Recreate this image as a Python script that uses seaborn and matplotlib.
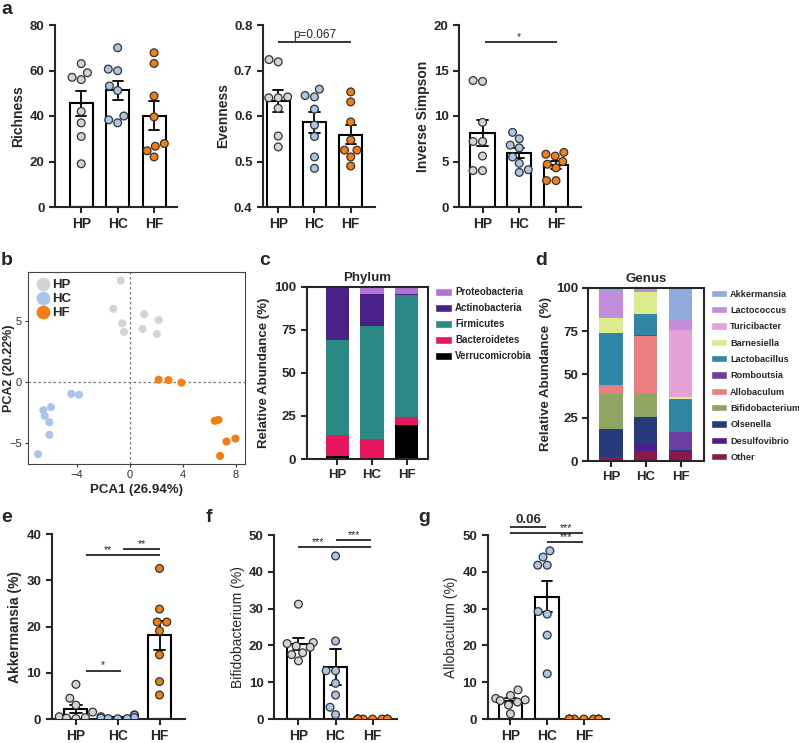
import warnings
warnings.filterwarnings("ignore")

import numpy as np
import pandas as pd
import matplotlib
matplotlib.use("Agg")
import matplotlib.pyplot as plt
from matplotlib.patches import Patch
import seaborn as sns

sns.set_style("ticks")
plt.rcParams["font.family"] = ["Liberation Sans", "DejaVu Sans"]
plt.rcParams["axes.linewidth"] = 1.5

W, H = 799, 743

GROUPS = ["HP", "HC", "HF"]
GROUP_COLORS = {"HP": "#D4D4D4", "HC": "#A9C6EA", "HF": "#F47F10"}

# alpha diversity
richness_hp = [63, 59, 57, 56, 42, 37, 31, 19]
richness_hc = [70, 60.6, 59.9, 53.2, 51.2, 40, 38.3, 37]
richness_hf = [67.8, 63.1, 48.8, 39.6, 27.9, 26.7, 24.7, 22]

evenness_hp = [0.724, 0.719, 0.642, 0.640, 0.640, 0.617, 0.556, 0.532]
evenness_hc = [0.659, 0.645, 0.642, 0.615, 0.580, 0.555, 0.510, 0.485]
evenness_hf = [0.653, 0.631, 0.587, 0.547, 0.525, 0.525, 0.510, 0.490]

invsimpson_hp = [13.9, 13.8, 9.3, 7.2, 7.2, 5.6, 4.0, 4.0]
invsimpson_hc = [8.2, 7.5, 6.8, 6.5, 5.5, 4.8, 4.1, 3.8]
invsimpson_hf = [6.0, 5.8, 5.6, 5.0, 4.7, 4.3, 2.9, 2.9]

# PCA scores
pca_hp_x = [-0.68, -1.26, -0.58, -0.45, 1.08, 2.17, 0.96, 2.04]
pca_hp_y = [8.3, 5.98, 4.8, 4.1, 5.55, 5.08, 4.34, 3.93]
pca_hc_x = [-4.43, -3.85, -5.96, -6.54, -6.44, -6.09, -6.09, -6.94]
pca_hc_y = [-0.96, -1.04, -2.05, -2.3, -2.76, -3.28, -4.32, -5.9]
pca_hf_x = [2.17, 2.92, 3.9, 6.42, 6.69, 7.3, 7.98, 6.82]
pca_hf_y = [0.19, 0.16, -0.05, -3.17, -3.09, -4.86, -4.62, -6.04]

# composition, bottom -> top
PHYLA = ["Verrucomicrobia", "Bacteroidetes", "Firmicutes", "Actinobacteria", "Proteobacteria"]
PHYLA_COLORS = ["#000000", "#E8175D", "#2B8985", "#4A2189", "#B073D6"]
phylum_hp = [2.0, 11.7, 55.3, 30.0, 1.0]
phylum_hc = [0.3, 11.5, 65.4, 18.8, 4.0]
phylum_hf = [19.7, 4.9, 70.4, 0.5, 4.5]

GENERA = ["Other", "Desulfovibrio", "Olsenella", "Bifidobacterium", "Allobaculum",
          "Romboutsia", "Lactobacillus", "Barnesiella", "Turicibacter",
          "Lactococcus", "Akkermansia"]
GENERA_COLORS = ["#8B1A4A", "#4B1F8E", "#263A7C", "#8FA562", "#EC7E7F",
                 "#6C3DA3", "#2F86A6", "#DCEB8C", "#E6A1D8", "#C18DDC", "#8FABDD"]
genus_hp = [2.1, 0.4, 16.0, 20.2, 5.1, 0.2, 30.0, 8.5, 0.0, 14.8, 2.7]
genus_hc = [5.8, 4.4, 15.0, 13.8, 33.3, 0.6, 12.1, 12.3, 0.0, 2.3, 0.4]
genus_hf = [5.0, 1.0, 0.3, 0.0, 0.0, 10.4, 19.1, 0.9, 39.1, 5.5, 18.7]

# single genera
akk_hp = [7.5, 4.5, 3.0, 1.5, 0.5, 0.3, 0.2, 0.1]
akk_hc = [0.9, 0.8, 0.5, 0.3, 0.2, 0.1, 0.1, 0.05]
akk_hf = [32.6, 23.8, 21.0, 21.0, 19.1, 13.9, 8.1, 5.2]

bifido_hp = [31.2, 20.8, 20.5, 19.8, 19.5, 18.0, 17.5, 15.8]
bifido_hc = [44.3, 21.2, 13.1, 13.1, 9.7, 6.5, 3.2, 1.2]
bifido_hf = [0, 0, 0, 0, 0, 0, 0, 0]

allo_hp = [7.9, 6.4, 5.6, 5.2, 5.0, 4.6, 3.8, 1.4]
allo_hc = [45.7, 44.0, 41.8, 41.8, 29.2, 28.5, 22.8, 12.3]
allo_hf = [0, 0, 0, 0, 0, 0, 0, 0]


def box(l, t, r, b):
    return [l / W, 1 - b / H, (r - l) / W, (b - t) / H]


def long_df(hp, hc, hf):
    rows = [(g, v) for g, vals in zip(GROUPS, [hp, hc, hf]) for v in vals]
    return pd.DataFrame(rows, columns=["group", "value"])


def bar_panel(ax, df, ylabel, ylim, yticks, xlim, width, label_weight="bold", yfmt=None):
    sns.barplot(data=df, x="group", y="value", order=GROUPS, errorbar="se",
                capsize=0.28, width=width, color="white", edgecolor="black",
                linewidth=1.5, err_kws={"color": "black", "linewidth": 1.3}, ax=ax)
    sns.swarmplot(data=df, x="group", y="value", order=GROUPS, hue="group",
                  hue_order=GROUPS, palette=GROUP_COLORS, size=5.6, edgecolor="#333333",
                  linewidth=0.9, legend=False, ax=ax)
    for c in ax.collections:
        c.set_zorder(4)
    ax.set_ylim(*ylim)
    ax.set_yticks(yticks)
    if yfmt:
        ax.set_yticklabels([yfmt.format(t) for t in yticks])
    ax.set_xlim(*xlim)
    ax.set_xlabel("")
    ax.set_ylabel(ylabel, fontsize=10, fontweight=label_weight, labelpad=3)
    sns.despine(ax=ax)
    ax.tick_params(axis="both", width=1.5, length=4, labelsize=9.5)
    for t in ax.get_xticklabels() + ax.get_yticklabels():
        t.set_fontweight("bold")
    ax.tick_params(axis="x", labelsize=10)


def bracket(ax, x1, x2, y, text, tx, fs=7.5, weight="normal", pad=0.0):
    ax.plot([x1, x2], [y, y], color="black", lw=1.1, clip_on=False,
            solid_capstyle="butt", zorder=5)
    ax.annotate(text, (tx, y), xytext=(0, pad), textcoords="offset points",
                ha="center", va="bottom", fontsize=fs, fontweight=weight,
                annotation_clip=False)


def stacked_panel(ax, values, names, colors, title, ylabel, xlim, width,
                  fs=7, anchor=1.02, spacing=0.62):
    bottom = np.zeros(3)
    handles = []
    for i, (name, col) in enumerate(zip(names, colors)):
        h = np.array([v[i] for v in values])
        ax.bar(GROUPS, h, bottom=bottom, width=width, color=col, linewidth=0)
        bottom += h
        handles.append(Patch(facecolor=col, label=name))
    ax.set_ylim(0, 100)
    ax.set_yticks([0, 25, 50, 75, 100])
    ax.set_xlim(*xlim)
    ax.set_title(title, fontsize=9.5, fontweight="bold", pad=4)
    ax.set_ylabel(ylabel, fontsize=9.5, fontweight="bold", labelpad=3)
    for s in ax.spines.values():
        s.set_linewidth(1.5)
    ax.tick_params(axis="both", width=1.5, length=4, labelsize=9.5)
    for t in ax.get_xticklabels() + ax.get_yticklabels():
        t.set_fontweight("bold")
    leg = ax.legend(handles=handles[::-1], loc="upper left", bbox_to_anchor=(1.03, anchor),
                    frameon=False, fontsize=fs, handlelength=1.7, handleheight=0.85,
                    handletextpad=0.35, labelspacing=spacing, borderaxespad=0)
    for t in leg.get_texts():
        t.set_fontweight("bold")


fig = plt.figure(figsize=(W / 100, H / 100), dpi=100)

# ---- a: alpha diversity
ax = fig.add_axes(box(55, 25, 177, 207))
bar_panel(ax, long_df(richness_hp, richness_hc, richness_hf), "Richness",
          (0, 80), [0, 20, 40, 60, 80], (-0.72, 2.63), 0.63)

ax = fig.add_axes(box(263, 25, 375, 207))
bar_panel(ax, long_df(evenness_hp, evenness_hc, evenness_hf), "Evenness",
          (0.4, 0.8), [0.4, 0.5, 0.6, 0.7, 0.8], (-0.42, 2.67), 0.63, yfmt="{:.1f}")
bracket(ax, 0, 2, 0.762, "p=0.067", 1, fs=8.5, pad=1)

ax = fig.add_axes(box(459, 25, 581, 207))
bar_panel(ax, long_df(invsimpson_hp, invsimpson_hc, invsimpson_hf), "Inverse Simpson",
          (0, 20), [0, 5, 10, 15, 20], (-0.64, 2.68), 0.66)
bracket(ax, 0.07, 2.02, 18.1, "*", 1)

# ---- b: PCA
ax = fig.add_axes(box(28, 272, 245, 464))
pca = pd.DataFrame({
    "PCA1": pca_hp_x + pca_hc_x + pca_hf_x,
    "PCA2": pca_hp_y + pca_hc_y + pca_hf_y,
    "group": ["HP"] * len(pca_hp_x) + ["HC"] * len(pca_hc_x) + ["HF"] * len(pca_hf_x),
})
ax.axhline(0, color="#777777", lw=0.9, ls=(0, (2, 2)), zorder=0)
ax.axvline(0, color="#777777", lw=0.9, ls=(0, (2, 2)), zorder=0)
sns.scatterplot(data=pca, x="PCA1", y="PCA2", hue="group", hue_order=GROUPS,
                palette=GROUP_COLORS, s=34, linewidth=0, ax=ax)
ax.set_xlim(-7.7, 8.7)
ax.set_ylim(-6.7, 9.0)
ax.set_xticks([-4, 0, 4, 8])
ax.set_yticks([-5, 0, 5])
ax.set_xlabel("PCA1 (26.94%)", fontsize=9.5, fontweight="bold", labelpad=3)
ax.set_ylabel("PCA2 (20.22%)", fontsize=9, fontweight="bold")
ax.yaxis.set_label_coords(-0.062, 0.5)
for s in ax.spines.values():
    s.set_linewidth(0.8)
    s.set_color("#444444")
ax.tick_params(axis="both", labelsize=8, width=0.8, length=2.5, colors="#333333", pad=2)
leg = ax.legend(loc="upper left", frameon=False, markerscale=1.7, fontsize=9.5,
                handletextpad=0.05, labelspacing=0.12, borderaxespad=0.15,
                handlelength=1.2)
for t in leg.get_texts():
    t.set_fontweight("bold")

# ---- c: phylum
ax = fig.add_axes(box(306.7, 286.7, 427.7, 459))
stacked_panel(ax, [phylum_hp, phylum_hc, phylum_hf], PHYLA, PHYLA_COLORS, "Phylum",
              "Relative Abundance (%)", (-0.88, 2.6), 0.67)

# ---- d: genus
ax = fig.add_axes(box(588.3, 287.7, 704.3, 461))
stacked_panel(ax, [genus_hp, genus_hc, genus_hf], GENERA, GENERA_COLORS, "Genus",
              "Relative Abundance  (%)", (-0.65, 2.68), 0.67, fs=6.6, anchor=1.01,
              spacing=0.8)

# ---- e, f, g: single genera
ax = fig.add_axes(box(51.7, 534.3, 185, 719))
bar_panel(ax, long_df(akk_hp, akk_hc, akk_hf), "Akkermansia (%)",
          (0, 40), [0, 10, 20, 30, 40], (-0.58, 2.61), 0.55)
bracket(ax, 0.24, 2.0, 35.5, "**", 0.76)
bracket(ax, 1.13, 2.0, 36.8, "**", 1.57)
bracket(ax, 0.24, 1.09, 10.5, "*", 0.65)

ax = fig.add_axes(box(274, 535, 396.7, 719))
bar_panel(ax, long_df(bifido_hp, bifido_hc, bifido_hf), "Bifidobacterium (%)",
          (0, 50), [0, 10, 20, 30, 40, 50], (-0.66, 2.65), 0.63, label_weight="normal")
bracket(ax, 0, 1.95, 46.8, "***", 0.53)
bracket(ax, 1.0, 1.95, 48.6, "***", 1.5)

ax = fig.add_axes(box(487.7, 535, 609.3, 719))
bar_panel(ax, long_df(allo_hp, allo_hc, allo_hf), "Allobaculum (%)",
          (0, 50), [0, 10, 20, 30, 40, 50], (-0.62, 2.69), 0.65, label_weight="normal")
bracket(ax, 0, 0.96, 52.2, "0.06", 0.48, fs=9.5, weight="bold", pad=0.5)
bracket(ax, 0, 1.97, 50.5, "***", 1.5)
bracket(ax, 1.0, 1.97, 48.1, "***", 1.5)

# panel letters
for letter, x, y in [("a", 1, 14), ("b", 1, 265), ("c", 259, 265), ("d", 535, 265),
                     ("e", 1, 522), ("f", 206, 522), ("g", 418, 522)]:
    fig.text(x / W, 1 - y / H, letter, fontsize=14, fontweight="bold",
             ha="left", va="baseline")

fig.savefig("out.png", dpi=100)
